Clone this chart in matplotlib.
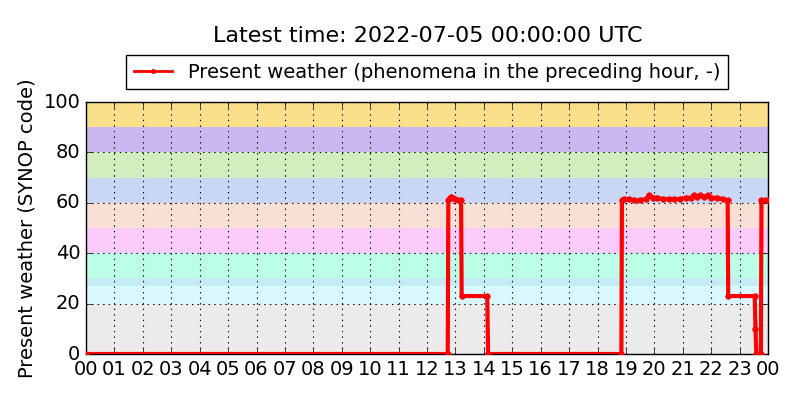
import matplotlib
matplotlib.use("Agg")
import matplotlib.pyplot as plt

# Data (hours since 2022-07-04 00:00 UTC, SYNOP ww code)
hours = [0.0, 12.73, 12.75, 12.8, 12.85, 12.9, 13.0, 13.1, 13.2, 13.22, 14.12, 14.15,
         18.84, 18.86, 18.95, 19.1, 19.3, 19.5, 19.7, 19.82, 19.95, 20.1, 20.3,
         20.5, 20.7, 20.9, 21.1, 21.3, 21.38, 21.5, 21.62, 21.75, 21.88, 22.0,
         22.2, 22.4, 22.58, 22.6, 23.53, 23.56, 23.59, 23.75,
         23.77, 23.9, 24.0]
ww = [0, 0, 61, 62, 62.5, 62, 61.5, 61, 61, 23, 23, 0,
      0, 61, 61.5, 61.5, 61, 61, 61.5, 63, 62, 62, 61.5,
      61.5, 61.5, 61.5, 62, 62, 63, 62.5, 63, 62.5, 63, 62,
      62, 61.5, 61, 23, 23, 10, 0, 0,
      61, 61, 61]

tick_hours = list(range(25))
tick_labels = ["%02d" % (h % 24) for h in tick_hours]
y_ticks = [0, 20, 40, 60, 80, 100]

band_edges = [(0, 20), (20, 27), (27, 30), (30, 40), (40, 50), (50, 60),
              (60, 70), (70, 80), (80, 90), (90, 100)]
band_colors = ["#ebebeb", "#d9f9ff", "#c4ecf4", "#bbffe6", "#fbccfb", "#f9e0d6",
               "#c9d7f5", "#d3edbf", "#c9b8ef", "#f9df8a"]

plt.style.use("classic")
plt.rcParams["font.family"] = ["DejaVu Sans"]

fig = plt.figure(figsize=(8, 4), dpi=100, facecolor="white")
ax = fig.add_axes([0.1075, 0.115, 0.8525, 0.63])
ax.set_facecolor("white")

for (lo, hi), c in zip(band_edges, band_colors):
    ax.axhspan(lo, hi, color=c, lw=0, zorder=0)

ax.plot(hours, ww, color="red", lw=3, marker="o", markersize=4,
        markeredgecolor="red", markerfacecolor="red",
        label="Present weather (phenomena in the preceding hour, -)", zorder=3)

ax.set_xlim(0, 24)
ax.set_ylim(0, 100)
ax.set_xticks(tick_hours)
ax.set_xticklabels(tick_labels, fontsize=14)
ax.set_yticks(y_ticks)
ax.tick_params(labelsize=14, direction="in")
ax.grid(True, color="black", linestyle=":", linewidth=0.8)
ax.set_axisbelow(False)
ax.set_ylabel("Present weather (SYNOP code)", fontsize=14)

leg = ax.legend(loc="lower center", bbox_to_anchor=(0.5, 1.05), fontsize=14,
                numpoints=1, frameon=True, fancybox=False, borderaxespad=0.0)
for h in leg.legend_handles:
    h.set_markersize(3)
    h.set_linewidth(2)
fig.text(0.535, 0.91, "Latest time: 2022-07-05 00:00:00 UTC", fontsize=16,
         ha="center", va="center")

fig.savefig("out.png", dpi=100, facecolor="white")
